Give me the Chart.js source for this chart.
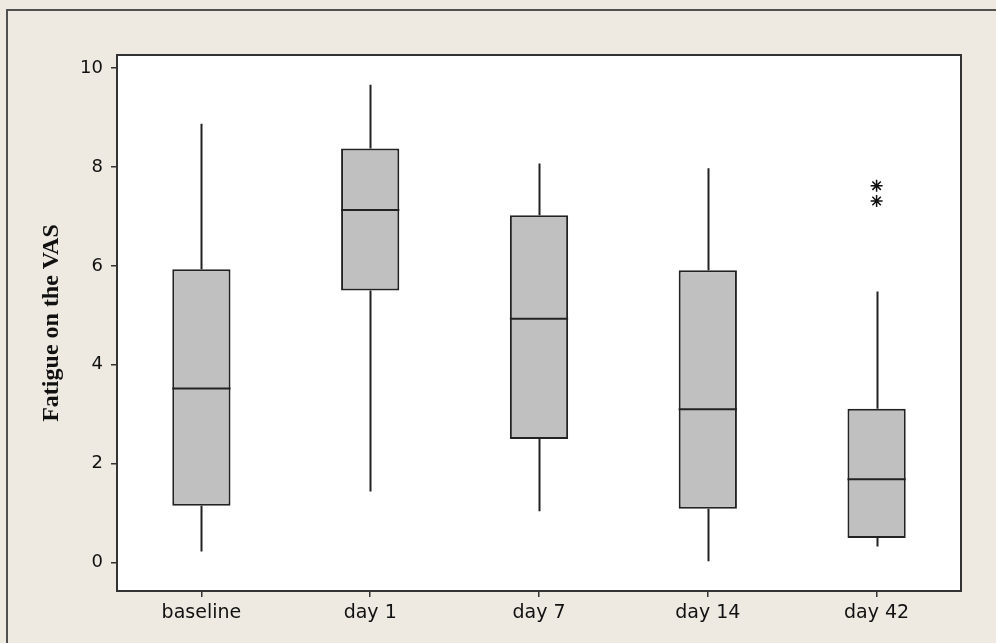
<!DOCTYPE html>
<html>
<head>
<meta charset="utf-8">
<script src="https://cdn.jsdelivr.net/npm/chart.js@4.4.1/dist/chart.umd.min.js"></script>
<style>
    html, body { margin: 0; padding: 0; background: #eeeae1; }
    #frame {
        position: absolute; left: 6px; top: 9px; right: 0; bottom: 0;
        border-top: 2px solid #505050; border-left: 2px solid #505050;
    }
    #chart { position: absolute; left: 0; top: 0; }
</style>
</head>
<body>
<div id="frame"></div>
<canvas id="chart" width="996" height="643"></canvas>
<script>
// box plot values
const categories = ['baseline', 'day 1', 'day 7', 'day 14', 'day 42'];
const whiskerLow = [0.23, 1.44, 1.04, 0.03, 0.33];
const q1 = [1.15, 5.50, 2.50, 1.09, 0.50];
const medians = [3.52, 7.13, 4.93, 3.10, 1.69];
const q3 = [5.93, 8.37, 7.02, 5.91, 3.11];
const whiskerHigh = [8.87, 9.66, 8.07, 7.97, 5.48];
const outlierCats = ['day 42', 'day 42'];
const outlierValues = [7.62, 7.31];
const yTicks = [0, 2, 4, 6, 8, 10];

const boxData = categories.map((c, i) => [q1[i], q3[i]]);
const outlierData = outlierCats.map((c, i) => ({ x: c, y: outlierValues[i] }));

// white plot area + whiskers, medians and the frame round the plot
const boxPlotPlugin = {
    id: 'boxPlot',
    beforeDraw(chart) {
        const { ctx, chartArea: a } = chart;
        ctx.save();
        ctx.fillStyle = '#ffffff';
        ctx.fillRect(a.left, a.top, a.right - a.left, a.bottom - a.top);
        ctx.restore();
    },
    afterDatasetsDraw(chart) {
        const { ctx, chartArea: a } = chart;
        const y = chart.scales.y;
        const bars = chart.getDatasetMeta(0).data;
        ctx.save();
        ctx.strokeStyle = '#222222';
        ctx.lineWidth = 2;
        bars.forEach((bar, i) => {
            const x = Math.round(bar.x) + 0.5;
            ctx.beginPath();
            ctx.moveTo(x, y.getPixelForValue(whiskerHigh[i]));
            ctx.lineTo(x, y.getPixelForValue(q3[i]));
            ctx.moveTo(x, y.getPixelForValue(q1[i]));
            ctx.lineTo(x, y.getPixelForValue(whiskerLow[i]));
            ctx.stroke();
            const m = y.getPixelForValue(medians[i]);
            ctx.beginPath();
            ctx.moveTo(bar.x - bar.width / 2, m);
            ctx.lineTo(bar.x + bar.width / 2, m);
            ctx.stroke();
        });
        ctx.strokeStyle = '#333333';
        ctx.lineWidth = 2;
        ctx.strokeRect(a.left, a.top, a.right - a.left, a.bottom - a.top);
        ctx.restore();
    }
};

new Chart(document.getElementById('chart'), {
    type: 'bar',
    data: {
        labels: categories,
        datasets: [
            {
                label: 'box',
                data: boxData,
                backgroundColor: '#c0c0c0',
                borderColor: '#222222',
                borderWidth: 2,
                borderSkipped: false,
                barPercentage: 0.345,
                categoryPercentage: 1
            },
            {
                type: 'line',
                label: 'outliers',
                data: outlierData,
                showLine: false,
                pointStyle: 'star',
                pointRadius: 6,
                borderColor: '#111111',
                backgroundColor: '#111111',
                borderWidth: 1.5
            }
        ]
    },
    options: {
        responsive: false,
        devicePixelRatio: 1,
        animation: false,
        layout: { padding: { left: 0, top: 55, right: 35, bottom: 0 } },
        plugins: {
            legend: { display: false },
            tooltip: { enabled: false }
        },
        scales: {
            x: {
                offset: true,
                afterFit(scale) { scale.height = 52; },
                grid: {
                    offset: false,
                    drawOnChartArea: false,
                    drawTicks: true,
                    tickLength: 6,
                    color: '#333333',
                    lineWidth: 1.5
                },
                border: { display: false },
                ticks: {
                    padding: 5,
                    color: '#111111',
                    font: { family: 'DejaVu Sans', size: 19 }
                }
            },
            y: {
                min: -0.57,
                max: 10.26,
                afterFit(scale) { scale.width = 117; },
                afterBuildTicks(scale) {
                    scale.ticks = yTicks.map(v => ({ value: v }));
                },
                grid: {
                    drawOnChartArea: false,
                    drawTicks: true,
                    tickLength: 6,
                    color: '#333333',
                    lineWidth: 1.5
                },
                border: { display: false },
                ticks: {
                    padding: 8,
                    color: '#111111',
                    font: { family: 'DejaVu Sans', size: 18 }
                },
                title: {
                    display: true,
                    text: 'Fatigue on the VAS',
                    color: '#111111',
                    font: { family: 'Liberation Serif', size: 24, weight: 'bold' },
                    padding: { top: 37, bottom: 0 }
                }
            }
        }
    },
    plugins: [boxPlotPlugin]
});
</script>
</body>
</html>
